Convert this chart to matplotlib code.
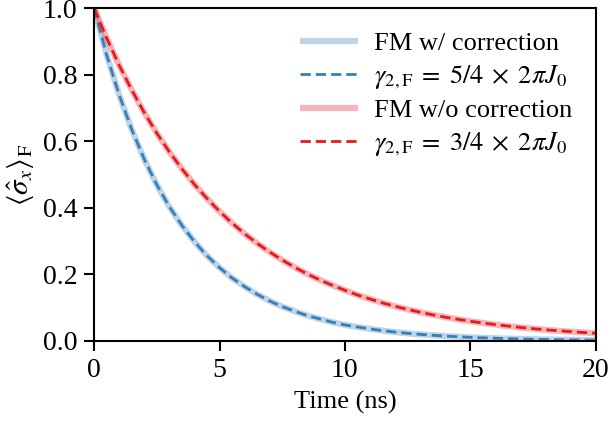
import numpy as np
import matplotlib
matplotlib.use("Agg")
import matplotlib.pyplot as plt

plt.rcParams['font.family'] = ['Liberation Serif', 'DejaVu Serif']
plt.rcParams['mathtext.fontset'] = 'stix'

# time axis (ns)
t = [0.0, 0.5, 1.0, 1.5, 2.0, 2.5, 3.0, 3.5, 4.0, 4.5, 5.0, 5.5, 6.0, 6.5, 7.0,
     7.5, 8.0, 8.5, 9.0, 9.5, 10.0, 10.5, 11.0, 11.5, 12.0, 12.5, 13.0, 13.5,
     14.0, 14.5, 15.0, 15.5, 16.0, 16.5, 17.0, 17.5, 18.0, 18.5, 19.0, 19.5, 20.0]

# FM w/ correction (blue)
sx_with = [1.000, 0.859, 0.739, 0.635, 0.546, 0.469, 0.403, 0.347, 0.298, 0.256,
           0.220, 0.189, 0.163, 0.140, 0.120, 0.103, 0.089, 0.076, 0.066, 0.056,
           0.048, 0.0418, 0.0359, 0.0309, 0.0265, 0.0228, 0.0196, 0.0169, 0.0145,
           0.0125, 0.0107, 0.0092, 0.0079, 0.0068, 0.0059, 0.0050, 0.0043, 0.0037,
           0.0032, 0.0028, 0.0024]

# FM w/o correction (red)
sx_without = [1.000, 0.910, 0.828, 0.754, 0.686, 0.624, 0.568, 0.517, 0.470, 0.428,
              0.389, 0.354, 0.322, 0.293, 0.267, 0.243, 0.221, 0.201, 0.183, 0.167,
              0.152, 0.138, 0.126, 0.114, 0.104, 0.0946, 0.0861, 0.0783, 0.0713,
              0.0649, 0.0590, 0.0537, 0.0489, 0.0445, 0.0405, 0.0368, 0.0335, 0.0305,
              0.0278, 0.0253, 0.0230]

blue = '#377eb8'
red = '#e41a1c'

fig = plt.figure(figsize=(6.11, 4.24), dpi=100)
ax = fig.add_axes([0.154, 0.196, 0.821, 0.785])

ax.plot(t, sx_with, color=blue, alpha=0.32, lw=4.5, solid_capstyle='butt',
        label='FM w/ correction')
ax.plot(t, sx_with, color=blue, lw=2, ls=(0, (3.7, 1.8)),
        label=r'$\gamma_{2,\mathrm{F}}\;=\;5/4\;\times\;2\pi J_0$')
ax.plot(t, sx_without, color=red, alpha=0.32, lw=4.5, solid_capstyle='butt',
        label='FM w/o correction')
ax.plot(t, sx_without, color=red, lw=2, ls=(0, (3.7, 1.8)),
        label=r'$\gamma_{2,\mathrm{F}}\;=\;3/4\;\times\;2\pi J_0$')

ax.set_xlim(0, 20)
ax.set_ylim(0, 1)
ax.set_xticks([0, 5, 10, 15, 20])
ax.set_yticks([0, 0.2, 0.4, 0.6, 0.8, 1.0])
ax.set_xlabel('Time (ns)', fontsize=19, labelpad=6)
ax.set_ylabel(r'$\langle\hat{\sigma}_x\rangle_\mathrm{F}$', fontsize=21, labelpad=4)
ax.tick_params(labelsize=20, width=1.5, length=7, pad=5)
for s in ax.spines.values():
    s.set_linewidth(1.5)

ax.legend(loc='upper right', frameon=False, fontsize=19, handlelength=2.2,
          handletextpad=0.6, labelspacing=0.3)

fig.savefig('out.png', dpi=100)
